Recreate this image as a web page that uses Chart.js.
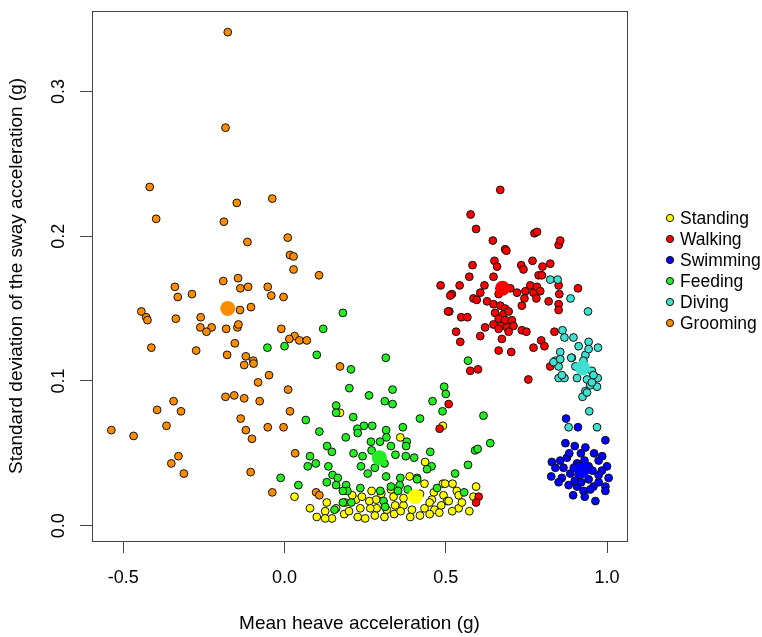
<!DOCTYPE html>
<html lang="en">
<head>
<meta charset="UTF-8" />
<title>Heave vs sway acceleration by behaviour</title>
<script src="https://cdn.jsdelivr.net/npm/chart.js"></script>
<style>
  body { margin: 0; background: #fff; }
  #wrap { width: 762px; height: 637px; }
</style>
</head>
<body>
<div id="wrap"><canvas id="chart" width="762" height="637"></canvas></div>
<script>
// Behaviour classes (legend order) and their colours
const classNames = ["Standing", "Walking", "Swimming", "Feeding", "Diving", "Grooming"];
const classColors = ["#FFFF00", "#FF0000", "#0000FF", "#22EE22", "#40E0D0", "#FF8C00"];

// Axis ticks
const xTicks = [-0.5, 0.0, 0.5, 1.0];
const yTicks = [0.0, 0.1, 0.2, 0.3];

const standing = [
  [0.172,0.078],[0.359,0.061],[0.491,0.069],[0.436,0.044],[0.388,0.034],[0.434,0.029],[0.491,0.029],
  [0.463,0.023],[0.493,0.021],[0.504,0.017],[0.486,0.014],[0.457,0.018],[0.465,0.011],[0.434,0.012],
  [0.395,0.011],[0.369,0.014],[0.369,0.019],[0.338,0.020],[0.343,0.014],[0.317,0.011],[0.284,0.018],
  [0.286,0.012],[0.266,0.012],[0.263,0.017],[0.235,0.012],[0.227,0.006],[0.222,0.018],[0.188,0.016],
  [0.131,0.016],[0.126,0.010],[0.147,0.005],[0.126,0.005],[0.079,0.012],[0.031,0.020],[0.185,0.008],
  [0.390,0.006],[0.498,0.029],[0.521,0.029],[0.534,0.024],[0.540,0.021],[0.594,0.027],[0.586,0.020],
  [0.540,0.012],[0.573,0.010],[0.509,0.017],[0.250,0.005],[0.280,0.007],[0.310,0.006],[0.340,0.008],
  [0.420,0.007],[0.450,0.008],[0.480,0.009],[0.520,0.010],[0.200,0.010],[0.160,0.012],[0.300,0.022],
  [0.330,0.025],[0.420,0.022],[0.450,0.016],[0.360,0.010],[0.240,0.020],[0.270,0.024],[0.210,0.021],
  [0.550,0.016],[0.100,0.006]
];
const walking = [
  [0.669,0.232],[0.577,0.215],[0.594,0.205],[0.646,0.197],[0.684,0.191],[0.688,0.190],[0.775,0.202],
  [0.783,0.203],[0.850,0.194],[0.855,0.197],[0.583,0.180],[0.651,0.183],[0.659,0.179],[0.734,0.180],
  [0.741,0.177],[0.769,0.183],[0.800,0.179],[0.824,0.181],[0.573,0.172],[0.648,0.172],[0.788,0.173],
  [0.798,0.173],[0.850,0.166],[0.543,0.166],[0.519,0.160],[0.620,0.166],[0.607,0.161],[0.586,0.157],
  [0.596,0.156],[0.628,0.155],[0.648,0.153],[0.664,0.160],[0.700,0.164],[0.721,0.161],[0.747,0.162],
  [0.744,0.157],[0.762,0.166],[0.772,0.161],[0.783,0.165],[0.793,0.162],[0.781,0.157],[0.819,0.155],
  [0.852,0.160],[0.910,0.164],[0.850,0.153],[0.850,0.149],[0.511,0.148],[0.548,0.144],[0.567,0.144],
  [0.669,0.152],[0.684,0.150],[0.653,0.147],[0.679,0.146],[0.695,0.148],[0.736,0.152],[0.664,0.143],
  [0.684,0.142],[0.705,0.142],[0.669,0.138],[0.648,0.139],[0.690,0.137],[0.710,0.138],[0.664,0.136],
  [0.622,0.137],[0.736,0.135],[0.750,0.134],[0.695,0.134],[0.532,0.134],[0.607,0.131],[0.674,0.129],
  [0.545,0.127],[0.837,0.134],[0.796,0.128],[0.806,0.124],[0.772,0.123],[0.664,0.121],[0.703,0.120],
  [0.484,0.166],[0.514,0.159],[0.507,0.148],[0.576,0.107],[0.600,0.108],[0.756,0.101],[0.824,0.110],
  [0.509,0.084],[0.481,0.067],[0.602,0.020],[0.594,0.016]
];
const swimming = [
  [0.873,0.074],[0.910,0.068],[0.995,0.059],[0.871,0.057],[0.900,0.055],[0.933,0.054],[0.829,0.044],
  [0.855,0.045],[0.876,0.047],[0.883,0.050],[0.919,0.050],[0.907,0.043],[0.974,0.045],[1.000,0.041],
  [0.984,0.038],[0.827,0.034],[0.860,0.033],[0.886,0.036],[0.850,0.030],[0.881,0.028],[0.907,0.027],
  [0.943,0.032],[0.958,0.027],[0.974,0.030],[0.995,0.027],[0.995,0.024],[0.927,0.024],[0.948,0.025],
  [0.931,0.020],[0.964,0.017],[0.912,0.041],[0.943,0.041],[0.912,0.035],[0.974,0.035],[1.005,0.033],
  [0.897,0.040],[0.930,0.045],[0.955,0.038],[0.865,0.040],[0.900,0.031],[0.985,0.048],[0.840,0.040],
  [0.920,0.030],[0.960,0.050],[0.895,0.021]
];
const feeding = [
  [-0.053,0.123],[0.181,0.147],[0.120,0.136],[0.000,0.124],[0.100,0.118],[0.314,0.116],[0.206,0.108],
  [0.201,0.095],[0.262,0.090],[0.335,0.094],[0.311,0.086],[0.335,0.084],[0.459,0.086],[0.495,0.096],
  [0.500,0.091],[0.490,0.079],[0.160,0.083],[0.160,0.078],[0.066,0.073],[0.213,0.075],[0.420,0.074],
  [0.108,0.065],[0.190,0.061],[0.246,0.069],[0.272,0.069],[0.226,0.067],[0.227,0.064],[0.315,0.066],
  [0.316,0.061],[0.367,0.068],[0.379,0.058],[0.268,0.058],[0.296,0.058],[0.132,0.055],[0.147,0.051],
  [0.214,0.050],[0.242,0.048],[0.344,0.049],[0.377,0.055],[0.376,0.048],[0.402,0.047],[0.452,0.051],
  [0.456,0.041],[0.442,0.039],[0.079,0.048],[0.072,0.041],[0.097,0.043],[0.136,0.041],[0.237,0.041],
  [0.258,0.036],[0.149,0.035],[0.165,0.033],[0.315,0.034],[0.359,0.033],[0.411,0.033],[-0.012,0.033],
  [0.043,0.028],[0.131,0.030],[0.160,0.028],[0.191,0.028],[0.195,0.024],[0.181,0.024],[0.235,0.026],
  [0.297,0.024],[0.330,0.027],[0.357,0.028],[0.352,0.024],[0.382,0.025],[0.411,0.032],[0.473,0.026],
  [0.307,0.017],[0.312,0.013],[0.207,0.016],[0.181,0.016],[0.155,0.011],[0.569,0.114],[0.617,0.076],
  [0.638,0.057],[0.591,0.052],[0.599,0.053],[0.569,0.042],[0.529,0.036],[0.557,0.023],[0.270,0.052],
  [0.330,0.055],[0.280,0.040],[0.310,0.043]
];
const diving = [
  [0.824,0.170],[0.847,0.170],[0.887,0.157],[0.941,0.148],[0.862,0.135],[0.868,0.130],[0.896,0.130],
  [0.912,0.124],[0.943,0.127],[0.972,0.123],[0.855,0.120],[0.891,0.116],[0.933,0.118],[0.840,0.114],
  [0.927,0.114],[0.943,0.122],[0.850,0.110],[0.834,0.113],[0.855,0.115],[0.850,0.102],[0.868,0.102],
  [0.860,0.104],[0.907,0.102],[0.938,0.101],[0.971,0.102],[0.969,0.096],[0.948,0.097],[0.933,0.093],
  [0.924,0.089],[0.938,0.092],[0.953,0.099],[0.889,0.116],[0.902,0.110],[0.953,0.107],[0.958,0.104],
  [0.945,0.079],[0.881,0.068],[0.969,0.068]
];
const grooming = [
  [-0.176,0.341],[-0.183,0.275],[-0.418,0.234],[-0.148,0.223],[-0.038,0.226],[-0.398,0.212],[-0.188,0.210],
  [-0.115,0.196],[-0.190,0.169],[-0.144,0.171],[-0.137,0.164],[-0.113,0.165],[-0.340,0.165],[-0.331,0.158],
  [-0.287,0.160],[-0.052,0.165],[-0.041,0.159],[-0.138,0.149],[-0.104,0.151],[-0.444,0.148],[-0.429,0.144],
  [-0.425,0.142],[-0.337,0.143],[-0.260,0.144],[-0.261,0.137],[-0.226,0.137],[-0.242,0.134],[-0.181,0.136],
  [-0.146,0.137],[-0.143,0.139],[-0.413,0.123],[-0.274,0.121],[-0.154,0.126],[-0.178,0.118],[-0.120,0.117],
  [-0.097,0.114],[-0.125,0.111],[-0.096,0.112],[-0.082,0.099],[-0.048,0.104],[-0.183,0.089],[-0.156,0.090],
  [-0.125,0.088],[-0.077,0.086],[-0.344,0.086],[-0.395,0.080],[-0.321,0.079],[-0.366,0.069],[-0.537,0.066],
  [-0.468,0.062],[-0.136,0.074],[-0.120,0.066],[-0.101,0.060],[-0.052,0.068],[-0.329,0.048],[-0.351,0.043],
  [-0.312,0.036],[-0.105,0.037],[-0.038,0.023],[0.010,0.199],[0.017,0.187],[0.028,0.186],[0.028,0.177],
  [0.107,0.173],[-0.003,0.158],[-0.010,0.136],[0.031,0.131],[0.015,0.129],[0.046,0.128],[0.069,0.128],
  [0.172,0.110],[0.011,0.094],[0.017,0.079],[-0.003,0.068],[0.033,0.050],[0.098,0.023],[0.108,0.021]
];

// Class centroids, same order as classNames
const centroids = [
  [0.405,0.020],[0.676,0.164],[0.922,0.038],[0.294,0.047],[0.924,0.109],[-0.176,0.150]
];

const classPoints = [standing, walking, swimming, feeding, diving, grooming];
// draw order: lower "order" ends up on top
const drawOrder = [6, 4, 3, 5, 2, 1];

const toXY = arr => arr.map(p => ({ x: p[0], y: p[1] }));

const datasets = classNames.map((name, i) => ({
  label: name,
  data: toXY(classPoints[i]),
  backgroundColor: classColors[i],
  borderColor: "#111",
  borderWidth: 1,
  pointRadius: 3.9,
  order: drawOrder[i],
}));

datasets.push({
  label: "centroids",
  data: toXY(centroids),
  backgroundColor: classColors,
  borderColor: classColors,
  borderWidth: 0,
  pointRadius: 7.5,
  order: 0,
});

const FONT = '"Liberation Sans", Arial, Helvetica, sans-serif';

// box around the plot region, like R's box()
const framePlugin = {
  id: "frame",
  afterDatasetsDraw(chart) {
    const { ctx, chartArea: a } = chart;
    ctx.save();
    ctx.strokeStyle = "#444";
    ctx.lineWidth = 1;
    ctx.strokeRect(Math.round(a.left) + 0.5, Math.round(a.top) + 0.5,
      Math.round(a.right - a.left), Math.round(a.bottom - a.top));
    ctx.restore();
  },
};

// legend to the right of the plot
const legendPlugin = {
  id: "sideLegend",
  afterDraw(chart) {
    const ctx = chart.ctx;
    ctx.save();
    ctx.font = "17.5px " + FONT;
    ctx.textBaseline = "middle";
    classNames.forEach((name, i) => {
      const y = 218 + i * 21;
      ctx.beginPath();
      ctx.arc(670, y, 3.6, 0, Math.PI * 2);
      ctx.fillStyle = classColors[i];
      ctx.fill();
      ctx.lineWidth = 1;
      ctx.strokeStyle = "#111";
      ctx.stroke();
      ctx.fillStyle = "#000";
      ctx.fillText(name, 680, y + 1);
    });
    ctx.restore();
  },
};

const noPad = s => { s.paddingTop = 0; s.paddingBottom = 0; s.paddingLeft = 0; s.paddingRight = 0; };

new Chart(document.getElementById("chart"), {
  type: "scatter",
  data: { datasets },
  plugins: [framePlugin, legendPlugin],
  options: {
    responsive: false,
    animation: false,
    events: [],
    layout: { padding: { top: 11, right: 135, left: 0, bottom: 0 } },
    plugins: { legend: { display: false }, tooltip: { enabled: false } },
    scales: {
      x: {
        type: "linear",
        min: -0.597,
        max: 1.062,
        afterBuildTicks: s => { s.ticks = xTicks.map(v => ({ value: v })); },
        afterFit: s => { s.height = 96; noPad(s); },
        ticks: {
          color: "#000",
          padding: 14,
          font: { size: 18, family: FONT },
          callback: v => v.toFixed(1),
        },
        grid: { drawOnChartArea: false, tickLength: 12, color: "#444", lineWidth: 1 },
        border: { color: "#444", width: 1 },
        title: {
          display: true,
          text: "Mean heave acceleration (g)",
          color: "#000",
          font: { size: 19, family: FONT },
          padding: { top: 0, bottom: 2 },
        },
      },
      y: {
        type: "linear",
        min: -0.0106,
        max: 0.3556,
        afterBuildTicks: s => { s.ticks = yTicks.map(v => ({ value: v })); },
        afterFit: s => { s.width = 92; noPad(s); },
        ticks: {
          color: "#000",
          padding: 8,
          minRotation: 90,
          maxRotation: 90,
          crossAlign: "center",
          font: { size: 18, family: FONT },
          callback: v => v.toFixed(1),
        },
        grid: { drawOnChartArea: false, tickLength: 12, color: "#444", lineWidth: 1 },
        border: { color: "#444", width: 1 },
        title: {
          display: true,
          text: "Standard deviation of the sway acceleration (g)",
          color: "#000",
          font: { size: 19, family: FONT },
          padding: { top: 5, bottom: 0 },
        },
      },
    },
  },
});
</script>
</body>
</html>
